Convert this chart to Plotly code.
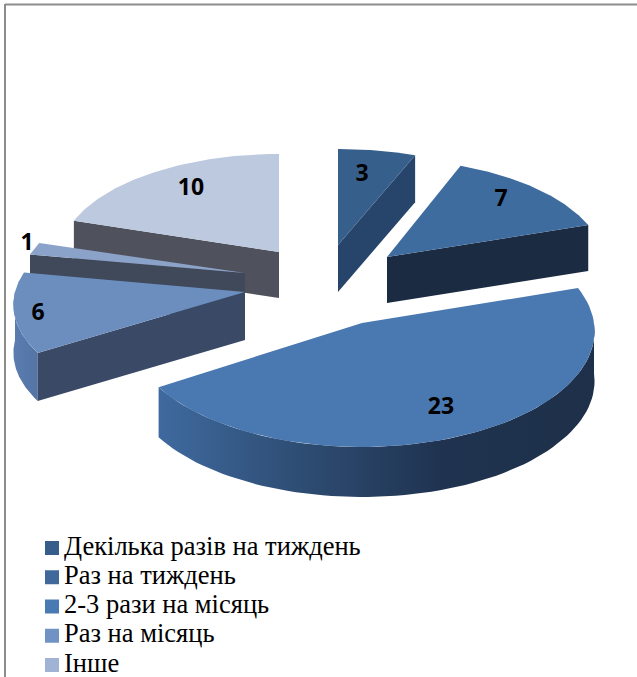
import math
import plotly.graph_objects as go

# ---- data ----
categories = ["Декілька разів на тиждень", "Раз на тиждень", "2-3 рази на місяць",
              "Раз на місяць", "Інше", ""]
values = [3, 7, 23, 6, 1, 10]

# ---- appearance of each slice (projection of its exploded, tilted disc, in page pixels) ----
tip_x = [338, 387, 362, 245, 245, 279]
tip_y = [245, 257, 323, 292, 273, 252]
rad_x = [229, 218, 232, 230, 223, 219]
rad_y = [105.6, 107, 115.4, 106.6, 100, 103]
persp = [0.10, 0.098, 0.069, 0.118, 0.10, 0.05]
depth = [47, 46, 50, 48, 48, 46]
top_col = ["#375f8c", "#3f6c9f", "#4a78b0", "#6c8ebf", "#8ca3c9", "#bdc9df"]
wall_col = ["#27456a", "#1b2b42", "#1f3350", "#3a4a66", "#40495a", "#4f525c"]
legend_col = ["#375d8a", "#40689b", "#4a7ab3", "#7093c4", "#a0b3d5"]
label_dx = [24, 114, 79, -207, -218, -88]
label_dy = [-70, -57, 85, 22, -29, -63]
draw_order = [5, 4, 3, 0, 1, 2]

total = sum(values)
starts, run = [], 0
for v in values:
    starts.append(run / total * 2 * math.pi)
    run += v
ends = starts[1:] + [2 * math.pi]


def project(i, a):
    u, v = math.sin(a), math.cos(a)
    w = 1 + persp[i] * v
    return tip_x[i] + u * rad_x[i] / w, tip_y[i] - v * rad_y[i] / w


def arc(i, a0, a1, n=70):
    pts = [project(i, a0 + (a1 - a0) * t / n) for t in range(n + 1)]
    return [p[0] for p in pts], [p[1] for p in pts]


fig = go.Figure()


def poly(xs, ys, color=None, gradient=None):
    kw = dict(fillgradient=gradient) if gradient else dict(fillcolor=color)
    fig.add_trace(go.Scatter(x=xs, y=ys, mode="lines", fill="toself",
                             line=dict(width=0, color="rgba(0,0,0,0)"),
                             hoverinfo="skip", showlegend=False, **kw))


def cut_wall(i, a):
    ex, ey = project(i, a)
    d = depth[i]
    poly([tip_x[i], ex, ex, tip_x[i], tip_x[i]],
         [tip_y[i], ey, ey + d, tip_y[i] + d, tip_y[i]], wall_col[i])


def rim_wall(i, a0, a1, gradient):
    xs, ys = arc(i, a0, a1)
    poly(xs + xs[::-1] + [xs[0]],
         ys + [y + depth[i] for y in ys[::-1]] + [ys[0]], gradient=gradient)


for i in draw_order:
    if i in (0, 1):
        cut_wall(i, ends[i])
    elif i == 2:
        rim_wall(i, math.pi / 2, ends[i], dict(
            type="horizontal",
            colorscale=[[0, "#3f6a9f"], [0.3, "#2f4f76"], [0.65, "#1f3350"], [1, "#1e3049"]]))
    elif i == 3:
        rim_wall(i, starts[i], 1.5 * math.pi, dict(
            type="horizontal",
            colorscale=[[0, "#5a7cb0"], [1, "#5474a5"]]))
        cut_wall(i, starts[i])
    else:
        cut_wall(i, starts[i])
    xs, ys = arc(i, starts[i], ends[i])
    poly([tip_x[i]] + xs + [tip_x[i]], [tip_y[i]] + ys + [tip_y[i]], top_col[i])

fig.add_trace(go.Scatter(
    x=[tip_x[i] + label_dx[i] for i in range(len(values))],
    y=[tip_y[i] + label_dy[i] for i in range(len(values))],
    mode="text", text=[str(v) for v in values], textposition="middle center",
    textfont=dict(family="Open Sans", size=23, color="#000000", weight="bold"),
    hoverinfo="skip", showlegend=False))

# key below the pie: one marker and one text per category
KEY_X, KEY_TEXT_X, KEY_Y0, KEY_STEP = 52, 64, 548, 29.25
for k, (name, col) in enumerate(zip(categories[:5], legend_col)):
    y_k = KEY_Y0 + k * KEY_STEP
    fig.add_trace(go.Scatter(
        x=[KEY_X], y=[y_k], mode="markers", name=name,
        marker=dict(symbol="square", size=14, color=col),
        hoverinfo="skip", showlegend=False, cliponaxis=False))
    fig.add_trace(go.Scatter(
        x=[KEY_TEXT_X], y=[y_k], mode="text", name=name,
        text=[name], textposition="middle right",
        textfont=dict(family="Liberation Serif", size=26.5, color="#000000"),
        hoverinfo="skip", showlegend=False, cliponaxis=False))

fig.update_layout(
    width=637, height=677, margin=dict(l=0, r=0, t=0, b=0, autoexpand=False),
    paper_bgcolor="white", plot_bgcolor="white",
    xaxis=dict(range=[0, 637], visible=False, fixedrange=True),
    yaxis=dict(range=[677, 0], visible=False, fixedrange=True),
    shapes=[
        dict(type="line", xref="paper", yref="paper", x0=5 / 637, x1=1, y0=1 - 4.5 / 677, y1=1 - 4.5 / 677,
             line=dict(color="#8c8c8c", width=2)),
        dict(type="line", xref="paper", yref="paper", x0=5 / 637, x1=5 / 637, y0=0, y1=1 - 4 / 677,
             line=dict(color="#8c8c8c", width=2)),
    ],
)
fig.write_html("out.html", config=dict(displayModeBar=False),
               post_script="document.body.style.margin='0';document.documentElement.style.overflow='hidden';")
